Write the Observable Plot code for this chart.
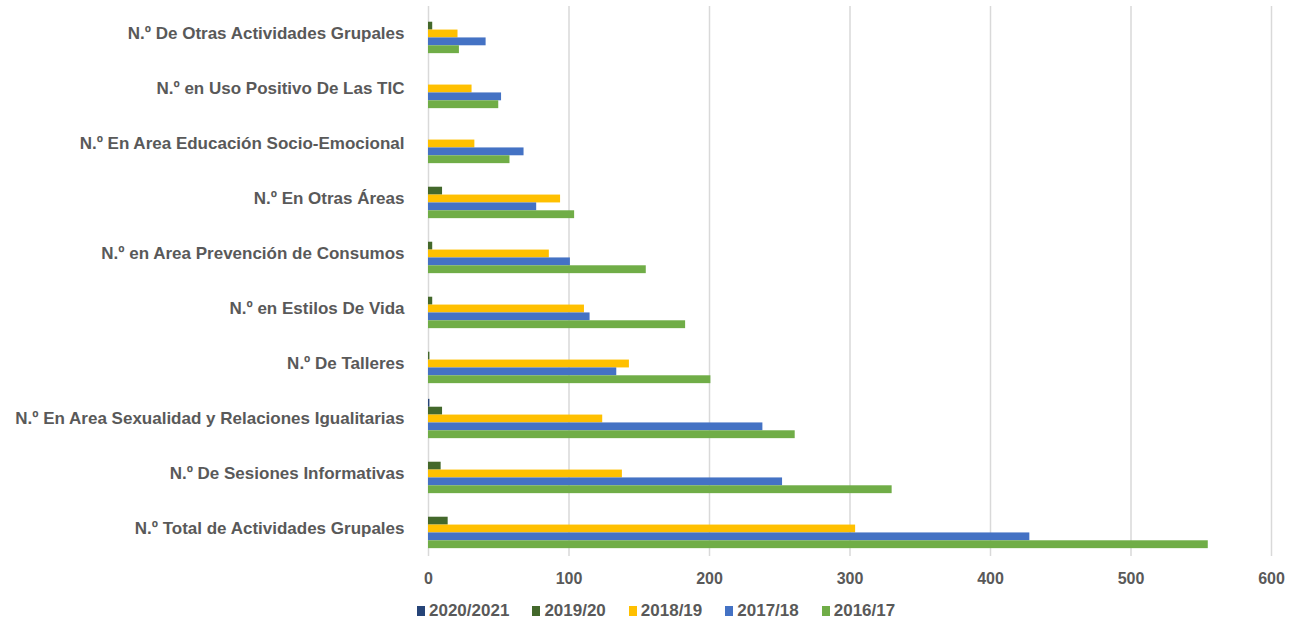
<!DOCTYPE html>
<html><head><meta charset="utf-8">
<script src="https://cdn.jsdelivr.net/npm/d3@7"></script>
<script src="https://cdn.jsdelivr.net/npm/@observablehq/plot@0.6"></script>
<style>
body{margin:0;background:#fff;font-family:"Liberation Sans",Arial,sans-serif;}
#legend{display:flex;justify-content:flex-start;padding-left:417px;margin-top:9px;line-height:20px;font-size:17px;font-weight:bold;color:#595959;}
#legend .item{display:flex;align-items:center;margin-right:23px;}
#legend .sw{width:8px;height:10px;margin-right:4px;}
</style></head><body><div id="chart"></div><div id="legend"></div>
<script>
const categories = [
  "N.º De Otras Actividades Grupales",
  "N.º en Uso Positivo De Las TIC",
  "N.º En Area Educación Socio-Emocional",
  "N.º En Otras Áreas",
  "N.º en Area Prevención de Consumos",
  "N.º en Estilos De Vida",
  "N.º De Talleres",
  "N.º En Area Sexualidad y Relaciones Igualitarias",
  "N.º De Sesiones Informativas",
  "N.º Total de Actividades Grupales"
];
const seriesNames = ["2020/2021", "2019/20", "2018/19", "2017/18", "2016/17"];
const seriesColors = ["#264478", "#43682b", "#ffc000", "#4472c4", "#70ad47"];
const values2020_21 = [0, 0, 0, 0, 0, 0, 0, 1, 0, 0];
const values2019_20 = [3, 0, 0, 10, 3, 3, 1, 10, 9, 14];
const values2018_19 = [21, 31, 33, 94, 86, 111, 143, 124, 138, 304];
const values2017_18 = [41, 52, 68, 77, 101, 115, 134, 238, 252, 428];
const values2016_17 = [22, 50, 58, 104, 155, 183, 201, 261, 330, 555];
const xTicks = [0, 100, 200, 300, 400, 500, 600];

const seriesValues = [values2020_21, values2019_20, values2018_19, values2017_18, values2016_17];
const data = [];
const yDomain = [];
const labelKeys = [];
const keyToCat = new Map();
categories.forEach((c, i) => {
  yDomain.push(c + "|pre");
  seriesNames.forEach((s, j) => {
    const key = c + "|" + s;
    yDomain.push(key);
    keyToCat.set(key, c);
    if (j === 2) labelKeys.push(key);
    data.push({key, category: c, series: s, value: seriesValues[j][i]});
  });
  yDomain.push(c + "|post");
});

const chart = Plot.plot({
  width: 1296,
  height: 592,
  marginLeft: 428,
  marginRight: 25,
  marginTop: 6,
  marginBottom: 36,
  style: {color: "#595959", fontSize: "17px", fontWeight: "bold", fontFamily: "'Liberation Sans', Arial, sans-serif", background: "#fff"},
  x: {domain: [0, 600], label: null},
  y: {domain: yDomain, padding: 0, label: null},
  color: {domain: seriesNames, range: seriesColors},
  marks: [
    Plot.gridX({ticks: xTicks, stroke: "#d9d9d9", strokeOpacity: 1, strokeWidth: 1.5}),
    Plot.barX(data, {x: "value", y: "key", fill: "series", insetTop: 0, insetBottom: 0}),
    Plot.axisX({ticks: xTicks, tickSize: 0, tickPadding: 16, fontSize: 16, label: null, tickFormat: d => String(d)}),
    Plot.axisY({ticks: labelKeys, tickSize: 0, tickPadding: 24, fontSize: 17, label: null, tickFormat: k => keyToCat.get(k)})
  ]
});
document.getElementById("chart").appendChild(chart);

const legend = document.getElementById("legend");
seriesNames.forEach((s, j) => {
  const it = document.createElement("div");
  it.className = "item";
  const sw = document.createElement("span");
  sw.className = "sw";
  sw.style.background = seriesColors[j];
  const t = document.createElement("span");
  t.textContent = s;
  it.appendChild(sw); it.appendChild(t);
  legend.appendChild(it);
});
</script></body></html>
